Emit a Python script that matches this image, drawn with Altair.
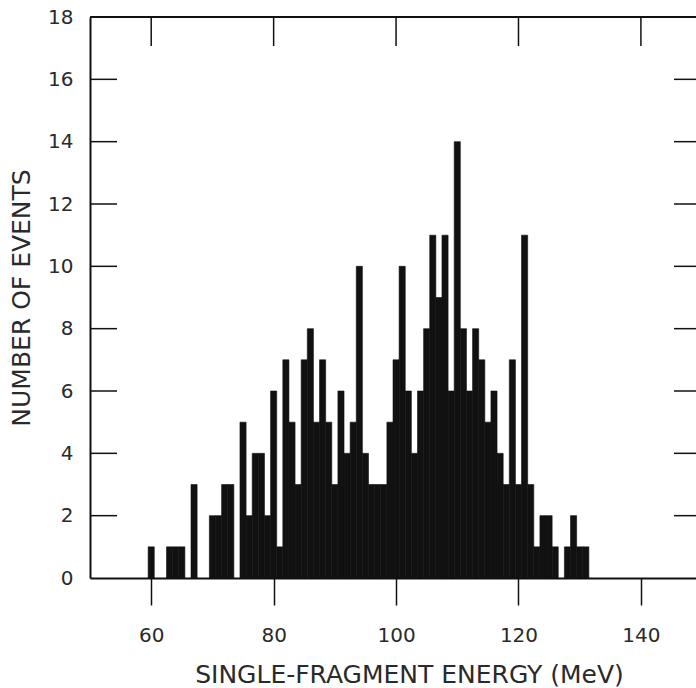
import altair as alt
import pandas as pd

# Bin centres (MeV), 1-MeV bins, and the number of events in each bin
energy = list(range(60, 132))
counts = [1, 0, 0, 1, 1, 1, 0, 3, 0, 0,
          2, 2, 3, 3, 0, 5, 2, 4, 4, 2,
          6, 1, 7, 5, 3, 7, 8, 5, 7, 5,
          3, 6, 4, 5, 10, 4, 3, 3, 3, 5,
          7, 10, 6, 4, 6, 8, 11, 9, 11, 6,
          14, 8, 6, 8, 7, 5, 6, 4, 3, 7,
          3, 11, 3, 1, 2, 2, 1, 0, 1, 2,
          1, 1]

x_ticks = [60, 80, 100, 120, 140]
y_ticks = [0, 2, 4, 6, 8, 10, 12, 14, 16, 18]
frame_y_ticks = [2, 4, 6, 8, 10, 12, 14, 16]

x_title = "SINGLE-FRAGMENT ENERGY (MeV)"
y_title = "NUMBER OF EVENTS"

df = pd.DataFrame({"e": energy, "n": counts})
df = df[df["n"] > 0].copy()
df["lo"] = df["e"] - 0.5
df["hi"] = df["e"] + 0.5
df["base"] = 0

W, H = 606, 561
INK = "#111111"
TXT = "#2a2a2a"
FONT = "DejaVu Sans"

xs = alt.Scale(domain=[50, 149], nice=False, zero=False)
ys = alt.Scale(domain=[0, 18], nice=False)

x_axis = alt.Axis(
    values=x_ticks, title=x_title, grid=False,
    domain=True, domainColor=INK, domainWidth=2,
    ticks=True, tickSize=27, tickWidth=1.5, tickColor=INK,
    labelFontSize=20, labelPadding=20, labelColor=TXT, labelFont=FONT,
    titleFontSize=25, titlePadding=17, titleColor=TXT, titleFont=FONT,
    titleFontWeight="normal", titleX=319, titleAlign="center")
y_axis = alt.Axis(
    values=y_ticks, title=y_title, grid=False,
    domain=True, domainColor=INK, domainWidth=2, ticks=False,
    labelFontSize=20, labelPadding=17, labelColor=TXT, labelFont=FONT,
    titleFontSize=25, titlePadding=13, titleColor=TXT, titleFont=FONT,
    titleFontWeight="normal")

bars = alt.Chart(df).mark_rect(color=INK, stroke=INK, strokeWidth=0.6).encode(
    x=alt.X("lo:Q", scale=xs, axis=x_axis),
    x2="hi:Q",
    y=alt.Y("n:Q", scale=ys, axis=y_axis),
    y2="base:Q",
)

top_line = alt.Chart(pd.DataFrame({"a": [0]})).mark_rule(color=INK, strokeWidth=2).encode(
    x=alt.value(0), x2=alt.value(W), y=alt.value(0))

top_ticks = alt.Chart(pd.DataFrame({"t": x_ticks})).mark_rule(color=INK, strokeWidth=1.5).encode(
    x=alt.X("t:Q", scale=xs, axis=x_axis), y=alt.value(0), y2=alt.value(29))

left_ticks = alt.Chart(pd.DataFrame({"v": frame_y_ticks})).mark_rule(color=INK, strokeWidth=1.5).encode(
    y=alt.Y("v:Q", scale=ys, axis=y_axis), x=alt.value(0), x2=alt.value(27))

right_ticks = alt.Chart(pd.DataFrame({"v": frame_y_ticks})).mark_rule(color=INK, strokeWidth=1.5).encode(
    y=alt.Y("v:Q", scale=ys, axis=y_axis), x=alt.value(W - 22), x2=alt.value(W))

chart = alt.layer(bars, top_line, top_ticks, left_ticks, right_ticks).properties(
    width=W, height=H,
    autosize=alt.AutoSizeParams(type="none"),
    padding={"left": 90, "top": 17, "right": 0, "bottom": 110},
    background="white",
).configure_view(stroke=None)

chart.save("out.html", embed_options={"renderer": "svg", "actions": False})
